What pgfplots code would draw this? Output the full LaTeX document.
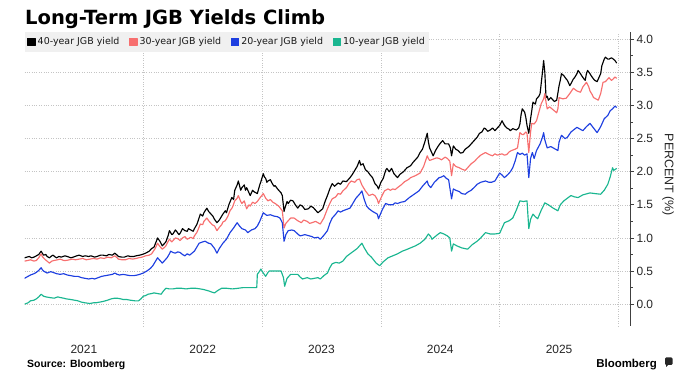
\documentclass[border=0pt]{standalone}
\usepackage{fontspec}
\setmainfont{Liberation Sans}
\newfontfamily\legendfont{DejaVu Sans}
\usepackage{pgfplots}
\pgfplotsset{compat=1.18}
\definecolor{c40}{HTML}{000000}
\definecolor{c30}{HTML}{F76F6F}
\definecolor{c20}{HTML}{1E3FE0}
\definecolor{c10}{HTML}{1AB690}
\definecolor{gridc}{HTML}{C4C4C4}
\begin{document}
\begin{tikzpicture}
\useasboundingbox (0,0) rectangle (697bp,376bp);
\node[anchor=base west, inner sep=0pt, font=\legendfont\bfseries\fontsize{19.6}{22}\selectfont] at (25bp,351bp) {Long-Term JGB Yields Climb};
\begin{axis}[
  at={(24.5bp,50bp)}, anchor=south west,
  scale only axis, width=605.5bp, height=294bp,
  xmin=2021, xmax=2026.097, ymin=-0.33, ymax=4.11,
  axis y line*=right, axis x line*=bottom,
  x axis line style={draw=none},
  y axis line style={draw=black!75, line width=0.8bp},
  xtick={2021.5,2022.5,2023.5,2024.5,2025.5},
  xticklabels={2021,2022,2023,2024,2025},
  minor xtick={2022,2023,2024,2025,2026},
  x tick style={draw=none},
  xminorgrids,
  minor x grid style={dotted, gridc, line width=0.55bp},
  xticklabel style={font=\fontsize{12}{14}\selectfont, text=black!85, yshift=-12bp},
  ytick={0,0.5,1,1.5,2,2.5,3,3.5,4},
  minor y tick num=1,
  yticklabel={\pgfmathprintnumber[fixed,fixed zerofill,precision=1,assume math mode=true]{\tick}},
  yticklabel style={font=\fontsize{12}{14}\selectfont, text=black!85, xshift=-1bp},
  tick align=outside,
  y tick style={draw=black!75, line width=0.7bp},
  major tick length=4bp, minor tick length=2.5bp,
  ymajorgrids,
  major y grid style={dotted, gridc, line width=0.55bp},
  legend columns=4,
  legend style={at={(0,1)}, anchor=north west, fill=black!6, draw=none,
    font=\legendfont\fontsize{9.5}{11}\selectfont, text=black!90,
    inner xsep=2.5bp, inner ysep=3.5bp,
    /tikz/every even column/.append style={column sep=7.5bp}},
  legend image code/.code={\fill[#1] (0bp,-3.6bp) rectangle (7.4bp,3.8bp);},
  every axis plot/.append style={line width=1.15bp, line join=round},
]
\addplot[c40] table {
2021.00 0.70
2021.02 0.71
2021.04 0.72
2021.06 0.70
2021.08 0.71
2021.10 0.73
2021.12 0.75
2021.14 0.80
2021.15 0.77
2021.16 0.74
2021.18 0.75
2021.19 0.72
2021.21 0.70
2021.23 0.73
2021.24 0.74
2021.26 0.71
2021.27 0.70
2021.29 0.72
2021.31 0.71
2021.34 0.73
2021.36 0.72
2021.39 0.70
2021.41 0.71
2021.44 0.73
2021.46 0.74
2021.49 0.72
2021.51 0.73
2021.54 0.72
2021.56 0.73
2021.59 0.71
2021.61 0.72
2021.64 0.74
2021.66 0.74
2021.69 0.73
2021.71 0.75
2021.74 0.74
2021.76 0.77
2021.78 0.74
2021.79 0.72
2021.82 0.71
2021.84 0.71
2021.87 0.73
2021.89 0.72
2021.92 0.72
2021.94 0.73
2021.97 0.74
2021.99 0.75
2022.02 0.77
2022.05 0.80
2022.07 0.84
2022.09 0.86
2022.11 0.95
2022.12 1.00
2022.14 0.95
2022.16 0.88
2022.18 0.92
2022.19 0.94
2022.21 1.04
2022.22 1.11
2022.24 1.05
2022.25 1.06
2022.27 1.12
2022.28 1.10
2022.30 1.05
2022.31 1.07
2022.33 1.14
2022.35 1.11
2022.37 1.10
2022.38 1.14
2022.40 1.12
2022.42 1.10
2022.43 1.14
2022.45 1.20
2022.46 1.25
2022.48 1.36
2022.50 1.33
2022.51 1.38
2022.535 1.45
2022.55 1.40
2022.56 1.38
2022.585 1.33
2022.60 1.28
2022.62 1.23
2022.64 1.27
2022.65 1.30
2022.67 1.36
2022.69 1.41
2022.70 1.38
2022.72 1.50
2022.745 1.61
2022.76 1.58
2022.77 1.72
2022.79 1.80
2022.80 1.86
2022.82 1.72
2022.83 1.76
2022.85 1.80
2022.86 1.72
2022.87 1.76
2022.89 1.68
2022.90 1.64
2022.92 1.72
2022.93 1.70
2022.96 1.67
2022.98 1.80
2022.99 1.85
2023.01 1.97
2023.02 1.92
2023.03 1.90
2023.04 1.84
2023.05 1.86
2023.07 1.88
2023.08 1.84
2023.10 1.78
2023.11 1.79
2023.13 1.74
2023.14 1.72
2023.16 1.68
2023.17 1.64
2023.185 1.40
2023.19 1.44
2023.21 1.55
2023.22 1.52
2023.24 1.57
2023.26 1.56
2023.28 1.50
2023.30 1.45
2023.32 1.50
2023.34 1.48
2023.36 1.43
2023.39 1.44
2023.41 1.48
2023.43 1.46
2023.45 1.42
2023.47 1.38
2023.49 1.41
2023.51 1.44
2023.53 1.55
2023.55 1.64
2023.57 1.74
2023.59 1.82
2023.61 1.78
2023.64 1.83
2023.66 1.81
2023.68 1.86
2023.71 1.85
2023.74 1.91
2023.76 1.96
2023.78 2.02
2023.80 2.08
2023.82 2.17
2023.83 2.10
2023.85 2.12
2023.87 2.03
2023.89 2.00
2023.91 1.95
2023.93 1.91
2023.95 1.82
2023.97 1.78
2023.98 1.74
2024.00 1.84
2024.02 1.90
2024.04 2.02
2024.05 2.05
2024.07 2.00
2024.09 2.05
2024.11 1.97
2024.14 1.91
2024.16 1.96
2024.19 2.00
2024.22 2.06
2024.25 2.09
2024.27 2.14
2024.29 2.18
2024.31 2.22
2024.33 2.29
2024.35 2.34
2024.37 2.45
2024.39 2.58
2024.40 2.45
2024.41 2.36
2024.43 2.28
2024.44 2.24
2024.46 2.32
2024.48 2.38
2024.50 2.43
2024.52 2.47
2024.54 2.42
2024.57 2.42
2024.585 2.36
2024.595 2.24
2024.61 2.39
2024.63 2.34
2024.65 2.32
2024.67 2.28
2024.69 2.29
2024.71 2.34
2024.74 2.38
2024.77 2.44
2024.81 2.52
2024.83 2.58
2024.85 2.60
2024.87 2.66
2024.88 2.65
2024.90 2.61
2024.92 2.63
2024.94 2.66
2024.96 2.62
2024.98 2.66
2025.00 2.70
2025.02 2.77
2025.04 2.70
2025.06 2.66
2025.08 2.64
2025.09 2.62
2025.11 2.65
2025.14 2.63
2025.16 2.66
2025.17 2.72
2025.18 2.86
2025.19 2.95
2025.21 2.90
2025.22 2.82
2025.23 2.70
2025.245 2.58
2025.26 2.80
2025.27 2.92
2025.28 3.05
2025.30 3.02
2025.31 3.10
2025.33 3.14
2025.34 3.18
2025.36 3.50
2025.37 3.68
2025.38 3.50
2025.39 3.12
2025.40 3.14
2025.41 3.08
2025.43 3.12
2025.44 3.10
2025.46 3.06
2025.48 3.08
2025.50 3.30
2025.51 3.38
2025.52 3.48
2025.54 3.45
2025.56 3.40
2025.57 3.38
2025.59 3.30
2025.60 3.33
2025.62 3.40
2025.63 3.42
2025.65 3.48
2025.66 3.53
2025.68 3.48
2025.69 3.45
2025.71 3.40
2025.72 3.38
2025.73 3.48
2025.74 3.53
2025.76 3.48
2025.77 3.45
2025.79 3.40
2025.80 3.38
2025.82 3.36
2025.83 3.40
2025.85 3.48
2025.86 3.60
2025.88 3.70
2025.89 3.73
2025.91 3.70
2025.92 3.70
2025.94 3.72
2025.95 3.71
2025.97 3.68
2025.985 3.64
};
\addlegendentry{40-year JGB yield}
\addplot[c30] table {
2021.00 0.65
2021.03 0.66
2021.05 0.67
2021.08 0.65
2021.10 0.66
2021.12 0.70
2021.14 0.76
2021.15 0.72
2021.17 0.68
2021.19 0.65
2021.21 0.62
2021.23 0.65
2021.25 0.66
2021.28 0.67
2021.30 0.68
2021.33 0.66
2021.35 0.66
2021.38 0.67
2021.40 0.68
2021.43 0.67
2021.46 0.68
2021.49 0.69
2021.52 0.67
2021.55 0.68
2021.58 0.69
2021.61 0.68
2021.64 0.70
2021.67 0.69
2021.70 0.71
2021.73 0.70
2021.76 0.73
2021.78 0.70
2021.79 0.68
2021.82 0.67
2021.85 0.67
2021.88 0.69
2021.91 0.68
2021.94 0.69
2021.96 0.70
2021.99 0.71
2022.02 0.73
2022.05 0.74
2022.07 0.76
2022.10 0.84
2022.12 0.92
2022.14 0.87
2022.16 0.83
2022.18 0.86
2022.19 0.88
2022.21 0.95
2022.22 0.98
2022.24 0.94
2022.25 0.96
2022.27 1.00
2022.29 0.99
2022.31 0.96
2022.33 1.00
2022.35 1.02
2022.37 0.98
2022.39 1.00
2022.40 1.01
2022.42 0.99
2022.43 1.03
2022.45 1.08
2022.46 1.12
2022.48 1.21
2022.50 1.20
2022.51 1.25
2022.535 1.30
2022.55 1.26
2022.56 1.24
2022.58 1.20
2022.60 1.18
2022.62 1.11
2022.64 1.16
2022.66 1.20
2022.67 1.24
2022.69 1.26
2022.71 1.32
2022.73 1.41
2022.75 1.46
2022.77 1.56
2022.79 1.60
2022.80 1.64
2022.82 1.55
2022.83 1.52
2022.85 1.56
2022.87 1.44
2022.89 1.50
2022.90 1.48
2022.92 1.54
2022.94 1.52
2022.96 1.55
2022.98 1.60
2023.01 1.67
2023.03 1.60
2023.05 1.56
2023.07 1.58
2023.09 1.54
2023.11 1.52
2023.14 1.48
2023.17 1.41
2023.185 1.15
2023.20 1.22
2023.22 1.26
2023.24 1.30
2023.27 1.30
2023.30 1.26
2023.33 1.23
2023.35 1.27
2023.38 1.25
2023.40 1.22
2023.42 1.23
2023.45 1.25
2023.49 1.21
2023.52 1.30
2023.55 1.44
2023.57 1.52
2023.59 1.59
2023.62 1.62
2023.64 1.67
2023.66 1.66
2023.68 1.71
2023.71 1.76
2023.73 1.82
2023.75 1.86
2023.78 1.84
2023.80 1.88
2023.82 1.89
2023.84 1.80
2023.87 1.71
2023.90 1.64
2023.93 1.66
2023.95 1.64
2023.97 1.58
2023.98 1.52
2024.01 1.64
2024.03 1.71
2024.06 1.74
2024.08 1.72
2024.10 1.74
2024.12 1.73
2024.14 1.76
2024.17 1.80
2024.20 1.85
2024.23 1.88
2024.25 1.91
2024.29 1.94
2024.33 1.98
2024.36 2.08
2024.39 2.24
2024.40 2.20
2024.41 2.17
2024.44 2.19
2024.47 2.21
2024.49 2.20
2024.51 2.18
2024.54 2.22
2024.56 2.20
2024.58 2.16
2024.595 1.94
2024.61 2.12
2024.63 2.08
2024.66 2.06
2024.68 2.04
2024.71 2.02
2024.73 2.06
2024.76 2.12
2024.79 2.16
2024.81 2.20
2024.84 2.25
2024.88 2.29
2024.91 2.26
2024.94 2.24
2024.96 2.27
2024.98 2.25
2025.00 2.26
2025.02 2.27
2025.04 2.25
2025.06 2.26
2025.08 2.30
2025.10 2.32
2025.13 2.34
2025.15 2.36
2025.16 2.48
2025.17 2.59
2025.19 2.56
2025.20 2.56
2025.22 2.60
2025.23 2.58
2025.245 2.29
2025.26 2.60
2025.27 2.73
2025.29 2.72
2025.31 2.77
2025.33 2.90
2025.35 3.03
2025.37 3.10
2025.38 3.18
2025.39 3.05
2025.40 2.95
2025.42 2.98
2025.44 2.95
2025.46 2.92
2025.48 2.89
2025.49 2.95
2025.50 3.12
2025.53 3.10
2025.56 3.11
2025.59 3.18
2025.62 3.26
2025.65 3.22
2025.68 3.20
2025.70 3.28
2025.73 3.35
2025.75 3.28
2025.76 3.22
2025.78 3.16
2025.79 3.12
2025.81 3.10
2025.83 3.08
2025.85 3.18
2025.87 3.35
2025.89 3.36
2025.92 3.42
2025.94 3.38
2025.95 3.39
2025.97 3.43
2025.985 3.41
};
\addlegendentry{30-year JGB yield}
\addplot[c20] table {
2021.00 0.39
2021.03 0.42
2021.05 0.44
2021.08 0.46
2021.10 0.48
2021.12 0.51
2021.14 0.55
2021.15 0.52
2021.16 0.50
2021.18 0.48
2021.19 0.47
2021.22 0.49
2021.24 0.48
2021.27 0.46
2021.30 0.45
2021.33 0.46
2021.36 0.44
2021.39 0.43
2021.42 0.42
2021.45 0.42
2021.48 0.40
2021.51 0.39
2021.54 0.38
2021.57 0.39
2021.59 0.38
2021.62 0.40
2021.65 0.42
2021.68 0.43
2021.71 0.44
2021.74 0.45
2021.76 0.47
2021.78 0.45
2021.80 0.44
2021.83 0.45
2021.86 0.44
2021.89 0.43
2021.92 0.43
2021.95 0.44
2021.97 0.45
2022.00 0.47
2022.03 0.50
2022.06 0.54
2022.08 0.58
2022.10 0.64
2022.12 0.70
2022.14 0.66
2022.16 0.62
2022.18 0.66
2022.20 0.70
2022.22 0.76
2022.23 0.80
2022.25 0.78
2022.27 0.77
2022.29 0.79
2022.31 0.78
2022.33 0.75
2022.35 0.73
2022.37 0.76
2022.39 0.74
2022.41 0.77
2022.43 0.80
2022.45 0.86
2022.47 0.92
2022.50 0.94
2022.52 0.95
2022.55 0.92
2022.57 0.91
2022.60 0.84
2022.62 0.77
2022.64 0.84
2022.67 0.92
2022.70 0.98
2022.73 1.08
2022.76 1.15
2022.79 1.23
2022.81 1.18
2022.83 1.14
2022.86 1.12
2022.88 1.08
2022.91 1.12
2022.94 1.14
2022.96 1.18
2022.98 1.25
2023.01 1.38
2023.04 1.34
2023.07 1.35
2023.10 1.33
2023.13 1.32
2023.15 1.30
2023.17 1.23
2023.185 0.95
2023.20 1.05
2023.22 1.11
2023.25 1.12
2023.27 1.11
2023.30 1.06
2023.32 1.03
2023.36 1.05
2023.40 1.03
2023.42 1.02
2023.44 1.00
2023.47 1.01
2023.49 0.98
2023.52 1.04
2023.55 1.11
2023.57 1.22
2023.59 1.30
2023.62 1.36
2023.64 1.41
2023.66 1.39
2023.68 1.41
2023.71 1.43
2023.74 1.45
2023.77 1.54
2023.79 1.60
2023.82 1.66
2023.84 1.71
2023.86 1.58
2023.88 1.48
2023.90 1.44
2023.93 1.40
2023.95 1.38
2023.97 1.36
2023.98 1.29
2024.01 1.42
2024.04 1.52
2024.07 1.50
2024.10 1.50
2024.12 1.53
2024.14 1.52
2024.17 1.54
2024.20 1.55
2024.22 1.58
2024.24 1.61
2024.28 1.66
2024.32 1.71
2024.35 1.78
2024.39 1.86
2024.40 1.80
2024.42 1.76
2024.45 1.84
2024.49 1.91
2024.51 1.92
2024.53 1.94
2024.55 1.90
2024.57 1.88
2024.595 1.59
2024.61 1.74
2024.63 1.72
2024.66 1.70
2024.68 1.67
2024.71 1.66
2024.73 1.69
2024.76 1.72
2024.79 1.77
2024.81 1.81
2024.84 1.84
2024.88 1.86
2024.91 1.84
2024.93 1.84
2024.96 1.86
2024.98 1.92
2025.00 1.98
2025.02 1.95
2025.04 1.91
2025.07 1.96
2025.09 2.00
2025.11 2.06
2025.13 2.16
2025.15 2.29
2025.17 2.26
2025.19 2.28
2025.21 2.25
2025.23 2.27
2025.245 1.91
2025.26 2.20
2025.275 2.29
2025.29 2.20
2025.31 2.32
2025.34 2.42
2025.36 2.52
2025.37 2.59
2025.38 2.48
2025.40 2.36
2025.43 2.38
2025.46 2.35
2025.49 2.32
2025.50 2.45
2025.52 2.55
2025.55 2.50
2025.57 2.52
2025.60 2.60
2025.65 2.67
2025.68 2.64
2025.70 2.62
2025.73 2.68
2025.76 2.73
2025.79 2.66
2025.82 2.59
2025.85 2.68
2025.88 2.80
2025.91 2.85
2025.93 2.92
2025.95 2.95
2025.97 2.99
2025.985 2.97
};
\addlegendentry{20-year JGB yield}
\addplot[c10] table {
2021.00 0.00
2021.03 0.02
2021.05 0.05
2021.08 0.06
2021.10 0.08
2021.12 0.11
2021.14 0.15
2021.16 0.12
2021.18 0.11
2021.21 0.10
2021.25 0.09
2021.28 0.11
2021.30 0.10
2021.33 0.09
2021.35 0.08
2021.39 0.07
2021.42 0.06
2021.45 0.05
2021.48 0.03
2021.51 0.02
2021.55 0.01
2021.58 0.02
2021.60 0.02
2021.63 0.03
2021.66 0.04
2021.70 0.06
2021.73 0.08
2021.76 0.09
2021.78 0.09
2021.81 0.08
2021.83 0.07
2021.86 0.07
2021.89 0.06
2021.93 0.05
2021.96 0.05
2021.98 0.08
2022.00 0.12
2022.02 0.13
2022.04 0.15
2022.07 0.16
2022.09 0.17
2022.12 0.16
2022.15 0.15
2022.17 0.20
2022.19 0.24
2022.22 0.23
2022.25 0.23
2022.28 0.24
2022.32 0.24
2022.36 0.23
2022.40 0.24
2022.44 0.24
2022.48 0.23
2022.51 0.22
2022.55 0.20
2022.58 0.18
2022.60 0.17
2022.63 0.21
2022.66 0.24
2022.70 0.24
2022.75 0.23
2022.80 0.24
2022.84 0.25
2022.90 0.25
2022.955 0.25
2022.96 0.45
2022.98 0.50
2022.99 0.53
2023.01 0.47
2023.03 0.42
2023.05 0.48
2023.06 0.50
2023.10 0.50
2023.13 0.50
2023.16 0.50
2023.18 0.40
2023.19 0.27
2023.21 0.39
2023.24 0.45
2023.27 0.45
2023.30 0.45
2023.32 0.41
2023.34 0.38
2023.38 0.40
2023.41 0.38
2023.44 0.39
2023.47 0.40
2023.49 0.38
2023.52 0.43
2023.55 0.47
2023.57 0.55
2023.59 0.61
2023.62 0.63
2023.65 0.62
2023.68 0.65
2023.71 0.72
2023.74 0.76
2023.77 0.80
2023.80 0.84
2023.84 0.92
2023.86 0.85
2023.89 0.76
2023.92 0.71
2023.96 0.62
2023.99 0.58
2024.02 0.64
2024.06 0.70
2024.10 0.73
2024.14 0.76
2024.18 0.80
2024.21 0.82
2024.25 0.85
2024.29 0.88
2024.33 0.92
2024.37 0.98
2024.40 1.06
2024.42 1.02
2024.43 0.98
2024.47 1.04
2024.50 1.08
2024.53 1.06
2024.56 1.03
2024.58 1.00
2024.595 0.80
2024.61 0.91
2024.64 0.88
2024.68 0.85
2024.73 0.83
2024.77 0.90
2024.81 0.95
2024.84 1.00
2024.88 1.08
2024.92 1.06
2024.96 1.06
2025.00 1.07
2025.02 1.15
2025.04 1.23
2025.08 1.26
2025.11 1.30
2025.14 1.42
2025.17 1.56
2025.20 1.55
2025.23 1.56
2025.245 1.14
2025.26 1.28
2025.28 1.36
2025.30 1.32
2025.32 1.29
2025.35 1.42
2025.38 1.53
2025.41 1.50
2025.45 1.45
2025.49 1.41
2025.51 1.50
2025.54 1.56
2025.57 1.60
2025.60 1.64
2025.63 1.62
2025.66 1.61
2025.70 1.65
2025.76 1.68
2025.80 1.67
2025.85 1.66
2025.88 1.72
2025.91 1.81
2025.93 1.92
2025.95 2.06
2025.96 2.02
2025.985 2.05
};
\addlegendentry{10-year JGB yield}
\end{axis}
\node[rotate=-90, inner sep=0pt, font=\fontsize{12.5}{14}\selectfont, text=black!85] at (668bp,201bp) {PERCENT (\%)};
\node[anchor=base west, inner sep=0pt, font=\bfseries\fontsize{10.5}{12}\selectfont] at (27bp,9bp) {Source: Bloomberg};
\node[anchor=base east, inner sep=0pt, font=\bfseries\fontsize{11.5}{13}\selectfont] at (657bp,9bp) {Bloomberg};
\fill[black!85, rounded corners=1.2bp] (665bp,11bp) rectangle (672.5bp,18.5bp);
\fill[black!85] (666bp,12bp) -- (666bp,9bp) -- (669bp,12bp) -- cycle;
\end{tikzpicture}
\end{document}
